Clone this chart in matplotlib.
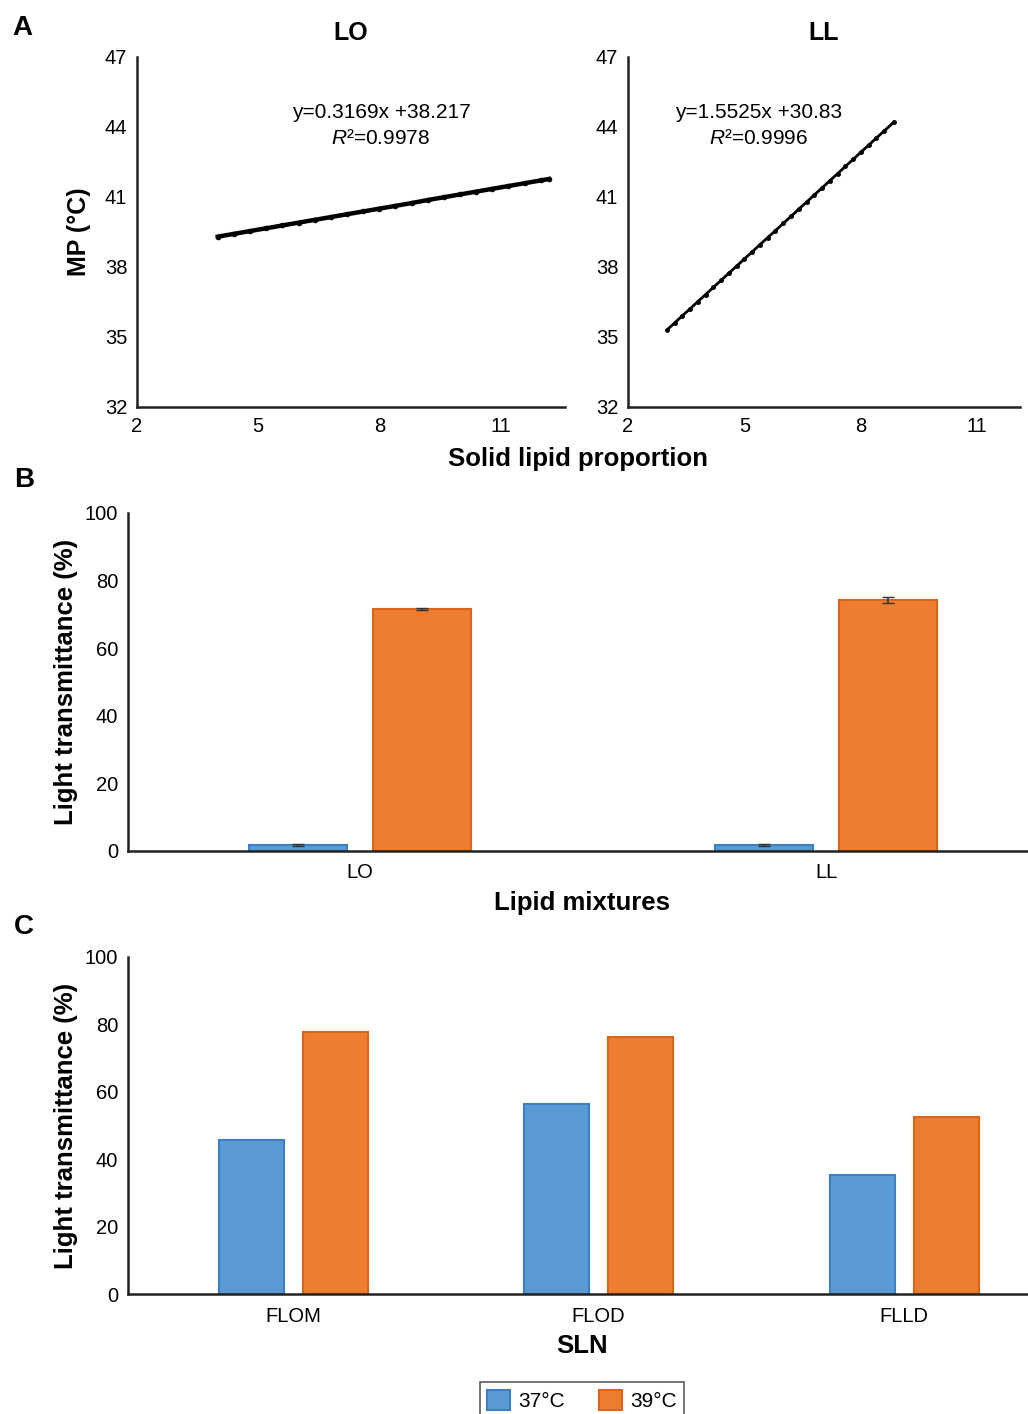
import matplotlib
matplotlib.use("Agg")
import matplotlib.pyplot as plt
import numpy as np

plt.rcParams['font.family'] = ['Liberation Sans', 'DejaVu Sans']
plt.rcParams['mathtext.fontset'] = 'custom'
plt.rcParams['mathtext.rm'] = 'Liberation Sans'
plt.rcParams['mathtext.it'] = 'Liberation Sans:italic'

# panel A data
lo_x = [4.0, 4.4, 4.8, 5.2, 5.6, 6.0, 6.4, 6.8, 7.2, 7.6, 8.0, 8.4, 8.8,
        9.2, 9.6, 10.0, 10.4, 10.8, 11.2, 11.6, 12.0, 12.2]
lo_y = [39.30, 39.42, 39.54, 39.66, 39.78, 39.90, 40.02, 40.14, 40.26, 40.38,
        40.50, 40.62, 40.74, 40.87, 40.99, 41.11, 41.23, 41.35, 41.47, 41.59,
        41.71, 41.77]
ll_x = [3.0, 3.2, 3.4, 3.6, 3.8, 4.0, 4.2, 4.4, 4.6, 4.8, 5.0, 5.2, 5.4, 5.6,
        5.8, 6.0, 6.2, 6.4, 6.6, 6.8, 7.0, 7.2, 7.4, 7.6, 7.8, 8.0, 8.2, 8.4,
        8.6, 8.85]
ll_y = [35.30, 35.60, 35.91, 36.21, 36.52, 36.82, 37.13, 37.43, 37.74, 38.04,
        38.35, 38.65, 38.96, 39.26, 39.56, 39.87, 40.17, 40.48, 40.78, 41.09,
        41.39, 41.70, 42.00, 42.31, 42.61, 42.92, 43.22, 43.53, 43.83, 44.21]

# panel B
mix_labels = ['LO', 'LL']
mix_37 = [1.8, 1.8]
mix_39 = [71.6, 74.3]
mix_37_err = [0.3, 0.3]
mix_39_err = [0.4, 0.8]

# panel C
sln_labels = ['FLOM', 'FLOD', 'FLLD']
sln_37 = [45.7, 56.4, 35.3]
sln_39 = [77.7, 76.3, 52.5]

BLUE = '#5b9bd5'
BLUE_EDGE = '#3b80c6'
ORANGE = '#ed7d31'
ORANGE_EDGE = '#de6518'

W, H = 1028, 1414
fig = plt.figure(figsize=(W / 100, H / 100), dpi=100)


def px_axes(x0, x1, y0, y1):
    return fig.add_axes([x0 / W, 1 - y1 / H, (x1 - x0) / W, (y1 - y0) / H])


def style(ax):
    for s in ['top', 'right']:
        ax.spines[s].set_visible(False)
    for s in ['left', 'bottom']:
        ax.spines[s].set_linewidth(1.8)
        ax.spines[s].set_color('#222222')
    ax.tick_params(length=0, labelsize=14.5, pad=7)


# ---- A
axL = px_axes(137, 565, 57, 407)
axR = px_axes(628, 1020, 57, 407)
axL.plot(lo_x, lo_y, color='black', lw=3.2, marker='o', ms=3)
axR.plot(ll_x, ll_y, color='black', lw=2.0, marker='o', ms=2.5)
axL.set_xlim(2, 12.6)
axR.set_xlim(2, 12.1)
for ax in (axL, axR):
    ax.set_ylim(32, 47)
    ax.set_yticks([32, 35, 38, 41, 44, 47])
    ax.set_xticks([2, 5, 8, 11])
    style(ax)
    ax.tick_params(axis='x', pad=7)
axL.set_title('LO', fontsize=18, fontweight='bold', pad=12)
axR.set_title('LL', fontsize=18, fontweight='bold', pad=12)
axL.set_ylabel('MP (°C)', fontsize=18, fontweight='bold', labelpad=10)

fig.text(381 / W, 1 - 113 / H, 'y=0.3169x +38.217', ha='center', va='center', fontsize=15)
fig.text(381 / W, 1 - 138 / H, r'$\mathit{R}$²=0.9978', ha='center', va='center', fontsize=15)
fig.text(759 / W, 1 - 113 / H, 'y=1.5525x +30.83', ha='center', va='center', fontsize=15)
fig.text(759 / W, 1 - 138 / H, r'$\mathit{R}$²=0.9996', ha='center', va='center', fontsize=15)
fig.text(578 / W, 1 - 459 / H, 'Solid lipid proportion', ha='center', va='center',
         fontsize=18.5, fontweight='bold')

# ---- B
axB = px_axes(128, 1028, 513, 851)
xb = np.arange(len(mix_labels))
axB.bar(xb - 0.133, mix_37, 0.21, color=BLUE, edgecolor=BLUE_EDGE, lw=1.5,
        yerr=mix_37_err, capsize=4, error_kw=dict(ecolor='#333333', lw=1.2))
axB.bar(xb + 0.133, mix_39, 0.21, color=ORANGE, edgecolor=ORANGE_EDGE, lw=1.5,
        yerr=mix_39_err, capsize=4, error_kw=dict(ecolor='#333333', lw=1.2))
axB.set_xlim(-0.498, 1.433)
axB.set_ylim(0, 100)
axB.set_yticks(range(0, 101, 20))
axB.set_xticks(xb)
axB.set_xticklabels(mix_labels)
style(axB)
axB.tick_params(axis='x', pad=9)
axB.set_ylabel('Light transmittance (%)', fontsize=18.5, fontweight='bold', labelpad=5)
fig.text(582 / W, 1 - 903 / H, 'Lipid mixtures', ha='center', va='center',
         fontsize=18.5, fontweight='bold')

# ---- C
axC = px_axes(128, 1028, 957, 1294)
xc = np.arange(len(sln_labels))
b37 = axC.bar(xc - 0.137, sln_37, 0.213, color=BLUE, edgecolor=BLUE_EDGE, lw=1.5, label='37°C')
b39 = axC.bar(xc + 0.139, sln_39, 0.213, color=ORANGE, edgecolor=ORANGE_EDGE, lw=1.5, label='39°C')
axC.set_xlim(-0.54, 2.406)
axC.set_ylim(0, 100)
axC.set_yticks(range(0, 101, 20))
axC.set_xticks(xc)
axC.set_xticklabels(sln_labels)
style(axC)
axC.tick_params(axis='x', pad=9)
axC.set_ylabel('Light transmittance (%)', fontsize=18.5, fontweight='bold', labelpad=5)
fig.text(582 / W, 1 - 1346 / H, 'SLN', ha='center', va='center',
         fontsize=18.5, fontweight='bold')

leg = fig.legend(handles=[b37, b39], loc='upper center', bbox_to_anchor=(582 / W, 1 - 1372 / H),
                 ncol=2, fontsize=15, frameon=True, fancybox=False, edgecolor='#333333',
                 handlelength=1.1, handleheight=1.1, handletextpad=0.4, columnspacing=1.6,
                 borderpad=0.35)
leg.get_frame().set_linewidth(1.2)

# panel letters
fig.text(22 / W, 1 - 28 / H, 'A', ha='center', va='center', fontsize=20, fontweight='bold')
fig.text(24 / W, 1 - 480 / H, 'B', ha='center', va='center', fontsize=20, fontweight='bold')
fig.text(24 / W, 1 - 927 / H, 'C', ha='center', va='center', fontsize=20, fontweight='bold')

fig.savefig('out.png', dpi=100)
